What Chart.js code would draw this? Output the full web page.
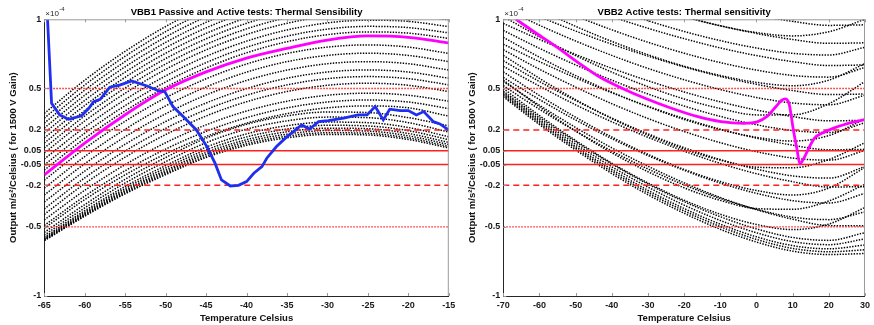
<!DOCTYPE html>
<html>
<head>
<meta charset="utf-8">
<script src="https://cdn.jsdelivr.net/npm/chart.js@4.4.1/dist/chart.umd.min.js"></script>
<style>
  body { margin: 0; background: #fff; }
  canvas { position: absolute; top: 0; }
  #left { left: 0; }
  #right { left: 459px; }
</style>
</head>
<body>
<canvas id="left" width="470" height="325"></canvas>
<canvas id="right" width="415" height="325"></canvas>
<script>
// ---- textes ----
const leftTitle = 'VBB1 Passive and Active tests: Thermal Sensibility';
const rightTitle = 'VBB2 Active tests: Thermal sensitivity';
const xTitle = 'Temperature Celsius';
const yTitle = 'Output m/s\u00b2/Celsius ( for 1500 V Gain)';

// ---- axe y (x 1e-4) ----
const yTickValues = [-1, -0.5, -0.2, -0.05, 0.05, 0.2, 0.5, 1];
const yTickLabels = ['-1', '-0.5', '-0.2', '-0.05', '0.05', '0.2', '0.5', '1'];
const limitLevels = [0.5, 0.2, 0.05, -0.05, -0.2, -0.5];

// ---- VBB1 : courbes pointillees ----
const leftRange = [-65, -15];
const leftTemps = [-65, -60, -55, -50, -45, -40, -35, -30, -25, -20, -15];
const leftSweeps = [
  [-0.600, -0.423, -0.261, -0.123, 0.001, 0.089, 0.143, 0.168, 0.164, 0.131, 0.070],
  [-0.597, -0.418, -0.254, -0.114, 0.011, 0.100, 0.155, 0.180, 0.176, 0.143, 0.081],
  [-0.593, -0.411, -0.245, -0.103, 0.024, 0.115, 0.170, 0.196, 0.192, 0.158, 0.095],
  [-0.590, -0.405, -0.236, -0.091, 0.038, 0.130, 0.187, 0.213, 0.209, 0.175, 0.110],
  [-0.583, -0.395, -0.223, -0.075, 0.056, 0.150, 0.207, 0.234, 0.229, 0.195, 0.130],
  [-0.575, -0.383, -0.208, -0.057, 0.076, 0.172, 0.231, 0.257, 0.253, 0.218, 0.151],
  [-0.560, -0.363, -0.183, -0.029, 0.108, 0.206, 0.266, 0.293, 0.289, 0.253, 0.185],
  [-0.540, -0.339, -0.156, 0.001, 0.141, 0.241, 0.302, 0.330, 0.326, 0.289, 0.230],
  [-0.510, -0.303, -0.124, 0.028, 0.153, 0.249, 0.318, 0.360, 0.374, 0.360, 0.300],
  [-0.490, -0.278, -0.094, 0.062, 0.190, 0.289, 0.360, 0.402, 0.417, 0.402, 0.355],
  [-0.450, -0.236, -0.050, 0.108, 0.237, 0.337, 0.408, 0.451, 0.466, 0.451, 0.408],
  [-0.410, -0.188, 0.004, 0.167, 0.301, 0.404, 0.478, 0.523, 0.538, 0.523, 0.478],
  [-0.370, -0.146, 0.048, 0.212, 0.347, 0.451, 0.526, 0.571, 0.586, 0.571, 0.526],
  [-0.320, -0.097, 0.097, 0.261, 0.395, 0.499, 0.574, 0.619, 0.634, 0.619, 0.574],
  [-0.270, -0.044, 0.151, 0.317, 0.453, 0.558, 0.633, 0.679, 0.694, 0.679, 0.633],
  [-0.220, 0.008, 0.206, 0.374, 0.511, 0.618, 0.694, 0.739, 0.755, 0.739, 0.694],
  [-0.163, 0.066, 0.264, 0.433, 0.570, 0.677, 0.753, 0.799, 0.815, 0.799, 0.753],
  [-0.090, 0.139, 0.338, 0.508, 0.648, 0.758, 0.838, 0.889, 0.909, 0.900, 0.862],
  [-0.053, 0.177, 0.376, 0.547, 0.687, 0.798, 0.878, 0.929, 0.949, 0.940, 0.902],
  [-0.010, 0.220, 0.420, 0.591, 0.732, 0.842, 0.923, 0.974, 0.994, 0.985, 0.947],
  [0.034, 0.265, 0.466, 0.638, 0.779, 0.890, 0.971, 1.023, 1.043, 1.034, 0.996],
  [0.070, 0.302, 0.504, 0.677, 0.819, 0.931, 1.012, 1.064, 1.084, 1.075, 1.036],
  [0.106, 0.340, 0.543, 0.716, 0.859, 0.971, 1.053, 1.105, 1.125, 1.116, 1.077],
  [0.142, 0.377, 0.581, 0.755, 0.898, 1.011, 1.093, 1.145, 1.166, 1.157, 1.118],
  [0.178, 0.414, 0.619, 0.794, 0.938, 1.051, 1.134, 1.186, 1.207, 1.198, 1.159],
  [0.214, 0.451, 0.657, 0.833, 0.978, 1.092, 1.174, 1.227, 1.248, 1.239, 1.199],
  [0.250, 0.488, 0.695, 0.872, 1.018, 1.132, 1.215, 1.268, 1.289, 1.280, 1.240],
  [0.286, 0.525, 0.733, 0.911, 1.057, 1.172, 1.256, 1.309, 1.330, 1.321, 1.281],
  [0.320, 0.560, 0.769, 0.948, 1.095, 1.210, 1.294, 1.348, 1.369, 1.359, 1.320]
];
const leftMagenta = [-0.125, 0.105, 0.31, 0.49, 0.62, 0.72, 0.79, 0.85, 0.88, 0.87, 0.83];
const leftBlueTemps = [-64.6, -64.1, -63.1, -62.0, -60.4, -59.5, -58.9, -58.1, -56.9, -55.6,
  -54.2, -52.3, -50.9, -50.1, -49.1, -47.8, -46.2, -44.9, -43.9, -43.1, -42.0, -41.0, -40.0,
  -39.1, -38.1, -37.5, -36.3, -35.0, -34.2, -33.2, -32.2, -31.1, -29.9, -28.0, -26.2, -25.1,
  -24.1, -23.1, -22.3, -21.0, -20.0, -19.0, -18.1, -16.9, -16.1, -15.0];
const leftBlue = [1.0, 0.393, 0.309, 0.277, 0.302, 0.357, 0.405, 0.422, 0.509, 0.526,
  0.555, 0.518, 0.484, 0.477, 0.369, 0.296, 0.2, 0.08, -0.04, -0.161, -0.205, -0.2, -0.173,
  -0.113, -0.065, -0.004, 0.08, 0.152, 0.188, 0.236, 0.207, 0.26, 0.268, 0.285, 0.309, 0.309,
  0.369, 0.273, 0.35, 0.34, 0.34, 0.309, 0.333, 0.26, 0.244, 0.2];

// ---- VBB2 ----
const rightRange = [-70, 30];
const rightTemps = [-70, -60, -50, -40, -30, -20, -10, 0, 10, 20, 30];
const rightSweeps = [
  [0.44, 0.239, 0.055, -0.115, -0.268, -0.402, -0.518, -0.610, -0.676, -0.700, -0.693],
  [0.45, 0.251, 0.068, -0.100, -0.252, -0.385, -0.499, -0.591, -0.656, -0.680, -0.666],
  [0.46, 0.263, 0.081, -0.085, -0.236, -0.368, -0.481, -0.572, -0.636, -0.659, -0.631],
  [0.47, 0.276, 0.098, -0.066, -0.213, -0.343, -0.454, -0.543, -0.607, -0.629, -0.587],
  [0.48, 0.290, 0.115, -0.046, -0.191, -0.318, -0.427, -0.515, -0.577, -0.598, -0.542],
  [0.50, 0.304, 0.124, -0.040, -0.183, -0.308, -0.409, -0.483, -0.520, -0.480, -0.360],
  [0.55, 0.379, 0.218, 0.071, -0.062, -0.182, -0.288, -0.376, -0.445, -0.491, -0.493],
  [0.52, 0.349, 0.192, 0.048, -0.082, -0.197, -0.295, -0.373, -0.430, -0.448, -0.392],
  [0.56, 0.368, 0.192, 0.035, -0.102, -0.218, -0.309, -0.368, -0.373, -0.313, -0.193],
  [0.58, 0.420, 0.272, 0.137, 0.015, -0.092, -0.184, -0.258, -0.311, -0.328, -0.258],
  [0.62, 0.449, 0.292, 0.149, 0.024, -0.085, -0.173, -0.238, -0.270, -0.220, -0.070],
  [0.66, 0.517, 0.382, 0.259, 0.147, 0.047, -0.042, -0.116, -0.174, -0.212, -0.210],
  [0.70, 0.550, 0.413, 0.286, 0.172, 0.072, -0.014, -0.083, -0.132, -0.148, -0.064],
  [0.74, 0.573, 0.419, 0.282, 0.163, 0.061, -0.018, -0.069, -0.073, -0.013, 0.108],
  [0.78, 0.639, 0.510, 0.390, 0.283, 0.189, 0.108, 0.043, -0.003, -0.018, 0.052],
  [0.82, 0.694, 0.577, 0.469, 0.371, 0.283, 0.206, 0.141, 0.090, 0.057, 0.060],
  [0.87, 0.726, 0.593, 0.473, 0.368, 0.276, 0.202, 0.147, 0.120, 0.160, 0.280],
  [0.92, 0.790, 0.670, 0.560, 0.460, 0.373, 0.298, 0.238, 0.196, 0.182, 0.252],
  [0.97, 0.854, 0.746, 0.646, 0.556, 0.475, 0.403, 0.344, 0.297, 0.266, 0.270],
  [1.02, 0.873, 0.738, 0.618, 0.513, 0.424, 0.355, 0.309, 0.310, 0.390, 0.550],
  [1.08, 0.957, 0.843, 0.739, 0.645, 0.563, 0.492, 0.435, 0.395, 0.382, 0.452],
  [1.13, 1.019, 0.915, 0.820, 0.734, 0.656, 0.587, 0.530, 0.485, 0.456, 0.460],
  [1.20, 1.069, 0.949, 0.840, 0.744, 0.661, 0.594, 0.544, 0.520, 0.560, 0.680],
  [1.25, 1.132, 1.024, 0.924, 0.834, 0.755, 0.687, 0.633, 0.594, 0.582, 0.652],
  [1.32, 1.212, 1.111, 1.019, 0.935, 0.860, 0.793, 0.738, 0.694, 0.666, 0.670],
  [1.40, 1.284, 1.177, 1.079, 0.990, 0.912, 0.846, 0.792, 0.754, 0.742, 0.798],
  [1.48, 1.372, 1.271, 1.179, 1.095, 1.020, 0.953, 0.898, 0.854, 0.826, 0.830],
  [1.55, 1.421, 1.303, 1.196, 1.101, 1.019, 0.953, 0.904, 0.880, 0.910, 1.000],
  [1.62, 1.511, 1.408, 1.314, 1.229, 1.153, 1.085, 1.029, 0.985, 0.956, 0.960]
];
const rightMagentaTemps = [-66.5, -60.9, -55.4, -49.0, -43.6, -37.2, -30.8, -23.5, -16.2, -9.8,
  -3.5, 0.2, 2.9, 5.4, 7.0, 7.9, 9.0, 10.2, 11.2, 12.0, 13.0, 14.3, 16.0, 18.4, 21.0, 23.9, 27.0, 30.0];
const rightMagenta = [1.0, 0.899, 0.803, 0.682, 0.586, 0.502, 0.429, 0.357, 0.296, 0.26,
  0.248, 0.258, 0.298, 0.37, 0.415, 0.425, 0.39, 0.2, 0.06, -0.045, -0.01, 0.06, 0.14, 0.18, 0.21, 0.236, 0.258, 0.275];

Chart.defaults.font.family = '"Liberation Sans", Arial, Helvetica, sans-serif';
Chart.defaults.color = '#262626';

const toPoints = (xs, ys) => xs.map((x, i) => ({ x: x, y: ys[i] }));

// courbes noires en pointille
function sweepSets(temps, curves) {
  return curves.map(vals => ({
    data: toPoints(temps, vals),
    borderColor: '#000',
    borderWidth: 1.5,
    borderDash: [1.4, 1.4],
    pointRadius: 0,
    cubicInterpolationMode: 'monotone',
    order: 3
  }));
}

// lignes rouges de specification
function limitSets(range) {
  return limitLevels.map(v => {
    const m = Math.abs(v);
    return {
      data: [{ x: range[0], y: v }, { x: range[1], y: v }],
      borderColor: '#ff1f1f',
      borderWidth: 1.4,
      borderDash: m >= 0.5 ? [1.5, 1.5] : (m >= 0.2 ? [6, 4] : []),
      pointRadius: 0,
      order: 2
    };
  });
}

// cadre, titre, facteur x10^-4
const framePlugin = {
  id: 'frame',
  afterDraw(chart, args, opts) {
    const ctx = chart.ctx, a = chart.chartArea;
    const xs = chart.scales.x, ys = chart.scales.y;
    ctx.save();
    ctx.strokeStyle = '#9a9a9a';
    ctx.lineWidth = 1;
    ctx.beginPath();
    ctx.moveTo(a.left, a.top + 0.5); ctx.lineTo(a.right, a.top + 0.5);
    ctx.moveTo(a.right - 0.5, a.top); ctx.lineTo(a.right - 0.5, a.bottom);
    xs.ticks.forEach(t => {
      const px = Math.round(xs.getPixelForValue(t.value)) + 0.5;
      ctx.moveTo(px, a.top); ctx.lineTo(px, a.top + 3);
      ctx.moveTo(px, a.bottom); ctx.lineTo(px, a.bottom - 3);
    });
    ys.ticks.forEach(t => {
      const py = Math.round(ys.getPixelForValue(t.value)) + 0.5;
      ctx.moveTo(a.left, py); ctx.lineTo(a.left + 3, py);
    });
    ctx.stroke();

    ctx.fillStyle = '#000';
    ctx.font = 'bold 9.5px "Liberation Sans", Arial, sans-serif';
    ctx.textAlign = 'center';
    ctx.textBaseline = 'middle';
    ctx.fillText(opts.text, (a.left + a.right) / 2, 12);

    ctx.fillStyle = '#262626';
    ctx.textAlign = 'left';
    ctx.font = '8px "Liberation Sans", Arial, sans-serif';
    const base = '\u00d710';
    ctx.fillText(base, a.left + 1, 13.5);
    const w = ctx.measureText(base).width;
    ctx.font = '6px "Liberation Sans", Arial, sans-serif';
    ctx.fillText('-4', a.left + 1 + w + 0.5, 9.5);
    ctx.restore();
  }
};

function makeOptions(range, step, title, padRight) {
  return {
    responsive: false,
    animation: false,
    events: [],
    layout: { padding: { left: 0, right: padRight, top: 19.3, bottom: 0 } },
    plugins: {
      legend: { display: false },
      tooltip: { enabled: false },
      frame: { text: title }
    },
    scales: {
      x: {
        type: 'linear',
        min: range[0],
        max: range[1],
        ticks: {
          stepSize: step,
          padding: 4,
          maxRotation: 0,
          autoSkip: false,
          color: '#1a1a1a',
          font: { size: 9, weight: 'bold' },
          callback: v => String(v)
        },
        grid: { display: false, drawTicks: false },
        border: { color: '#262626', width: 1 },
        title: {
          display: true,
          text: xTitle,
          color: '#111',
          font: { size: 9.5, weight: 'bold' },
          padding: { top: 0, bottom: 1.3 }
        },
        afterFit: s => { s.height = 29; }
      },
      y: {
        min: -1,
        max: 1,
        afterBuildTicks: s => { s.ticks = yTickValues.map(v => ({ value: v })); },
        ticks: {
          padding: 3,
          autoSkip: false,
          color: '#1a1a1a',
          font: { size: 9, weight: 'bold' },
          callback: (v, i) => yTickLabels[i]
        },
        grid: { display: false, drawTicks: false },
        border: { color: '#262626', width: 1 },
        title: {
          display: true,
          text: yTitle,
          color: '#111',
          font: { size: 9.5, weight: 'bold' },
          padding: { top: 8, bottom: 0 }
        },
        afterFit: s => { s.width = 44.3; }
      }
    }
  };
}

// graphique de gauche
new Chart(document.getElementById('left'), {
  type: 'line',
  data: {
    datasets: [
      {
        data: toPoints(leftBlueTemps, leftBlue),
        borderColor: '#1f2ff0',
        borderWidth: 2.8,
        pointRadius: 0,
        tension: 0,
        order: 0
      },
      {
        data: toPoints(leftTemps, leftMagenta),
        borderColor: '#ff00ff',
        borderWidth: 2.8,
        pointRadius: 0,
        cubicInterpolationMode: 'monotone',
        order: 1
      },
      ...limitSets(leftRange),
      ...sweepSets(leftTemps, leftSweeps)
    ]
  },
  options: makeOptions(leftRange, 5, leftTitle, 470 - 448.8),
  plugins: [framePlugin]
});

// graphique de droite
new Chart(document.getElementById('right'), {
  type: 'line',
  data: {
    datasets: [
      {
        data: toPoints(rightMagentaTemps, rightMagenta),
        borderColor: '#ff00ff',
        borderWidth: 2.8,
        pointRadius: 0,
        cubicInterpolationMode: 'monotone',
        order: 1
      },
      ...limitSets(rightRange),
      ...sweepSets(rightTemps, rightSweeps)
    ]
  },
  options: makeOptions(rightRange, 10, rightTitle, 5),
  plugins: [framePlugin]
});
</script>
</body>
</html>
